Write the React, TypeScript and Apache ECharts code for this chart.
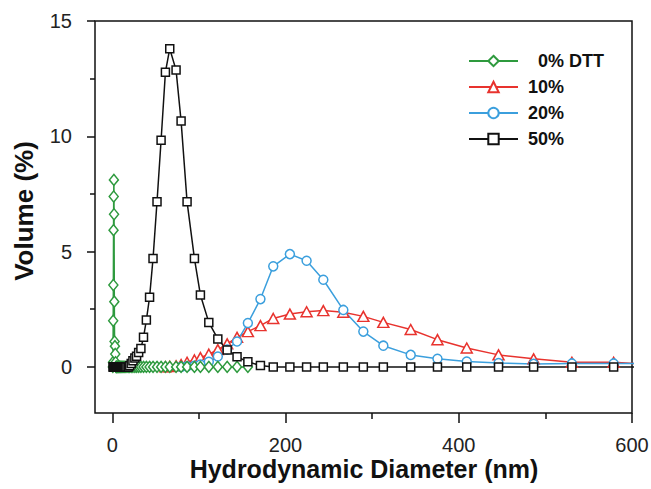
import React, { useEffect, useRef } from "react";
import * as echarts from "echarts";

// ---- tick labels ----
const xTickValues = [0, 200, 400, 600];
const xMinorTicks = [100, 300, 500];
const yTickValues = [0, 5, 10, 15];
const yMinorTicks = [2.5, 7.5, 12.5];

const legendNames = ["0% DTT", "10%", "20%", "50%"];

// ---- 0% DTT (green) ----
const dtt0X = [0.6, 0.8, 1.0, 1.2, 1.4, 1.6, 1.8, 2.0, 2.3, 2.6, 3.0, 3.4, 3.8, 4.2, 4.6, 5.0, 5.4, 5.9, 6.5, 7.1, 7.7, 8.4, 9.2, 10.0, 10.9, 11.9, 13.0, 14.2, 15.5, 16.9, 18.4, 20.0, 21.8, 23.8, 26.0, 28.0, 30.4, 33.0, 36.0, 39.3, 43.0, 47.0, 51.6, 56.3, 61.3, 66.3, 73.6, 79.4, 86.3, 94.8, 101.7, 111.4, 121.8, 132.6, 144.0, 156.5];
const dtt0Y = [0, 0.2, 2.0, 3.55, 5.93, 7.39, 8.11, 6.62, 2.83, 1.1, 0.9, 0.56, 0.2, 0, 0, 0, 0, 0, 0, 0, 0, 0, 0, 0, 0, 0, 0, 0, 0, 0, 0, 0, 0, 0, 0, 0, 0, 0, 0, 0, 0, 0, 0, 0, 0, 0, 0, 0, 0, 0, 0, 0, 0, 0, 0, 0];

// ---- 10% (red) ----
const dtt10X = [61.3, 66.3, 73.6, 79.4, 86.3, 94.8, 101.7, 111.4, 121.8, 132.6, 144.0, 156.5, 171.0, 185.8, 205.0, 224.3, 243.6, 266.7, 289.8, 312.9, 344.5, 375.4, 409.2, 445.9, 486.4, 530.6, 578.8, 631.0];
const dtt10Y = [0, 0.02, 0.05, 0.1, 0.2, 0.3, 0.4, 0.55, 0.75, 1.0, 1.28, 1.53, 1.79, 2.1, 2.29, 2.39, 2.44, 2.37, 2.19, 1.93, 1.62, 1.18, 0.82, 0.52, 0.35, 0.2, 0.2, 0.08];

// ---- 20% (blue) ----
const dtt20X = [79.4, 86.3, 94.8, 101.7, 111.4, 121.8, 132.6, 144.0, 156.5, 171.0, 185.8, 205.0, 224.3, 243.6, 266.7, 289.8, 312.9, 344.5, 375.4, 409.2, 445.9, 486.4, 530.6, 578.8, 631.0];
const dtt20Y = [0, 0.02, 0.05, 0.1, 0.22, 0.45, 0.75, 1.1, 1.9, 2.94, 4.36, 4.89, 4.6, 3.78, 2.47, 1.53, 0.92, 0.52, 0.35, 0.23, 0.17, 0.13, 0.15, 0.15, 0.15];

// ---- 50% (black) ----
const dtt50X = [1.0, 1.2, 1.4, 1.6, 1.8, 2.0, 2.3, 2.6, 3.0, 3.4, 3.8, 4.2, 4.6, 5.0, 5.4, 5.9, 6.5, 7.1, 7.7, 8.4, 9.2, 10.0, 10.9, 11.9, 13.0, 14.2, 15.5, 16.9, 18.4, 20.0, 21.8, 23.8, 26.0, 28.0, 30.4, 33.0, 36.0, 39.3, 43.0, 47.0, 51.6, 56.3, 61.3, 66.3, 73.6, 79.4, 86.3, 94.8, 101.7, 111.4, 121.8, 132.6, 144.0, 156.5, 171.0, 185.8, 205.0, 224.3, 243.6, 266.7, 289.8, 312.9, 344.5, 375.4, 409.2, 445.9, 486.4, 530.6, 578.8, 631.0];
const dtt50Y = [0, 0, 0, 0, 0, 0, 0, 0, 0, 0, 0, 0, 0, 0, 0, 0, 0, 0, 0, 0, 0, 0, 0, 0, 0, 0, 0, 0, 0, 0.05, 0.15, 0.27, 0.38, 0.46, 0.62, 0.8, 1.28, 2.03, 3.02, 4.7, 7.16, 9.83, 12.78, 13.8, 12.87, 10.66, 7.16, 4.7, 3.12, 1.93, 1.21, 0.73, 0.44, 0.22, 0.06, 0, 0, 0, 0, 0, 0, 0, 0, 0, 0, 0, 0, 0, 0, 0];

const FONT = "'Liberation Sans', Arial, sans-serif";
const AXIS_COLOR = "#111";

function pairs(xs: number[], ys: number[]) {
  return xs.map((x, i) => [x, ys[i]]);
}

function lineSeries(name: string, xs: number[], ys: number[], color: string, symbol: string, symbolSize: any) {
  return {
    type: "line",
    name,
    xAxisIndex: 0,
    yAxisIndex: 0,
    data: pairs(xs, ys),
    symbol,
    symbolSize,
    showSymbol: true,
    clip: true,
    lineStyle: { color, width: 1.5 },
    itemStyle: { color: "#fff", borderColor: color, borderWidth: 1.5 },
    emphasis: { disabled: true },
  };
}

export default function App() {
  const ref = useRef<HTMLDivElement>(null);
  useEffect(() => {
    if (!ref.current) return;
    const chart = echarts.init(ref.current, undefined, { renderer: "svg" });
    const tickStyle = { color: AXIS_COLOR, width: 1.5 };
    chart.setOption({
      animation: false,
      backgroundColor: "#fff",
      grid: {
        left: 95,
        right: 19,
        top: 21,
        bottom: 76,
        show: true,
        borderColor: AXIS_COLOR,
        borderWidth: 1.5,
        backgroundColor: "transparent",
        containLabel: false,
        outerBoundsMode: "none",
      },
      xAxis: [
        {
          type: "value",
          min: -20,
          max: 600,
          position: "bottom",
          axisLine: { show: false, onZero: false },
          axisTick: { show: true, customValues: xTickValues, length: 10, lineStyle: tickStyle },
          axisLabel: {
            customValues: xTickValues,
            margin: 22,
            fontFamily: FONT,
            fontSize: 20,
            color: "#222",
          },
          splitLine: { show: false },
        },
        {
          type: "value",
          min: -20,
          max: 600,
          position: "bottom",
          axisLine: { show: false, onZero: false },
          axisTick: { show: true, customValues: xMinorTicks, length: 6, lineStyle: tickStyle },
          axisLabel: { show: false },
          splitLine: { show: false },
        },
      ],
      yAxis: [
        {
          type: "value",
          min: -2,
          max: 15,
          position: "left",
          axisLine: { show: false, onZero: false },
          axisTick: { show: true, customValues: yTickValues, length: 8, lineStyle: tickStyle },
          axisLabel: {
            customValues: yTickValues,
            margin: 23,
            fontFamily: FONT,
            fontSize: 20,
            color: "#222",
          },
          splitLine: { show: false },
        },
        {
          type: "value",
          min: -2,
          max: 15,
          position: "left",
          axisLine: { show: false, onZero: false },
          axisTick: { show: true, customValues: yMinorTicks, length: 5, lineStyle: tickStyle },
          axisLabel: { show: false },
          splitLine: { show: false },
        },
      ],
      legend: {
        orient: "vertical",
        left: 463,
        top: 47,
        itemWidth: 49,
        itemHeight: 13,
        itemGap: 8,
        selectedMode: false,
        data: legendNames,
        formatter: (name: string) => (name === "0% DTT" ? "\u00a0\u00a00% DTT" : name),
        textStyle: {
          fontFamily: FONT,
          fontWeight: "bold",
          fontSize: 18,
          lineHeight: 18,
          color: "#111",
          padding: [0, 0, 0, 5],
        },
      },
      graphic: [
        {
          type: "text",
          x: 24,
          y: 211,
          rotation: Math.PI / 2,
          style: {
            text: "Volume (%)",
            font: `bold 26px ${FONT}`,
            fill: "#111",
            textAlign: "center",
            textVerticalAlign: "middle",
          },
        },
        {
          type: "text",
          x: 364,
          y: 469,
          style: {
            text: "Hydrodynamic Diameter (nm)",
            font: `bold 25px ${FONT}`,
            fill: "#111",
            textAlign: "center",
            textVerticalAlign: "middle",
          },
        },
      ],
      series: [
        lineSeries("10%", dtt10X, dtt10Y, "#e8332e", "triangle", [11, 10]),
        lineSeries("20%", dtt20X, dtt20Y, "#3b9fdd", "circle", 9),
        lineSeries("0% DTT", dtt0X, dtt0Y, "#2e9a3e", "diamond", [9, 11]),
        lineSeries("50%", dtt50X, dtt50Y, "#111111", "rect", 8),
      ],
    });
    return () => chart.dispose();
  }, []);
  return <div ref={ref} style={{ width: 651, height: 489, position: "absolute", left: 0, top: 0 }} />;
}
